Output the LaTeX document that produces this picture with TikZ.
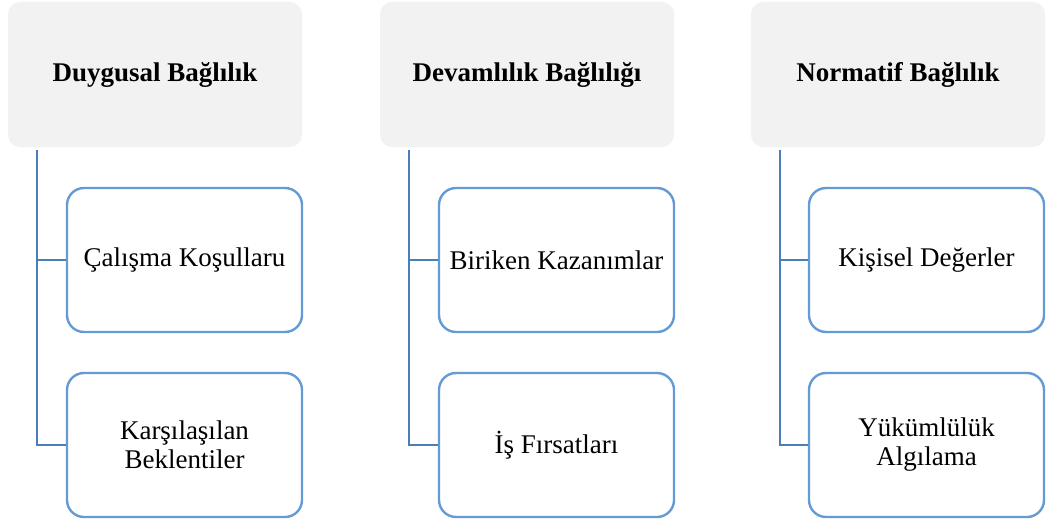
\documentclass[tikz,border=0pt]{standalone}
\usepackage{fontspec}
\setmainfont{Liberation Serif}
\definecolor{hdrfill}{RGB}{242,242,242}
\definecolor{boxblue}{RGB}{100,155,212}
\definecolor{lineblue}{RGB}{74,126,187}
\tikzset{
  hdr/.style={fill=hdrfill, draw=none, rounded corners=12pt, minimum width=294pt, minimum height=145pt,
    inner sep=0pt, align=center, font=\fontsize{27}{30}\selectfont\bfseries},
  child/.style={fill=white, draw=boxblue, line width=2.4pt, rounded corners=17pt, minimum width=235pt,
    minimum height=144pt, inner sep=0pt, align=center, font=\fontsize{27}{29}\selectfont},
  conn/.style={draw=lineblue, line width=2pt}
}
\begin{document}
\begin{tikzpicture}[x=1pt,y=1pt]
\useasboundingbox (0,0) rectangle (1046,-527);
% column 1
\node[hdr] (h1) at (155,-74.5) {Duygusal Bağlılık};
\node[child] (a1) at (184.5,-260) {Çalışma Koşullaru};
\node[child] (a2) at (184.5,-445) {Karşılaşılan\\Beklentiler};
% column 2
\node[hdr] (h2) at (527,-74.5) {Devamlılık Bağlılığı};
\node[child] (b1) at (556.5,-260) {Biriken Kazanımlar};
\node[child] (b2) at (556.5,-445) {İş Fırsatları};
% column 3
\node[hdr] (h3) at (898,-74.5) {Normatif Bağlılık};
\node[child] (c1) at (926.5,-260) {Kişisel Değerler};
\node[child] (c2) at (926.5,-445) {Yükümlülük\\Algılama};
% connectors
\foreach \h/\p/\q in {h1/a1/a2, h2/b1/b2, h3/c1/c2}{
  \coordinate (\h top) at ([xshift=29pt,yshift=-3pt]\h.south west);
  \draw[conn] (\h top) |- (\q.west);
  \draw[conn] (\h top |- \p.west) -- (\p.west);
}
\end{tikzpicture}
\end{document}
